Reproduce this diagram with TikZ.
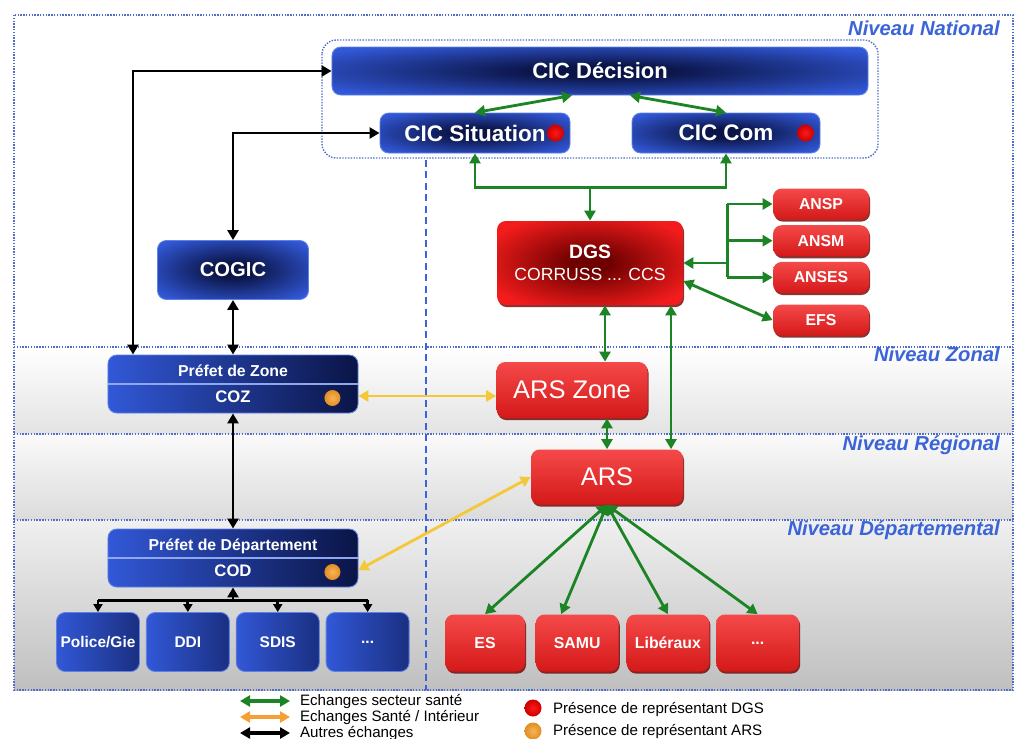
\documentclass[tikz,border=0pt]{standalone}
\usepackage{fontspec}
\setmainfont{Liberation Sans}
\usetikzlibrary{calc,positioning,shadows,arrows.meta}

\definecolor{niveaublue}{RGB}{58,100,215}
\definecolor{dotblue}{RGB}{80,110,200}
\definecolor{boxblue}{RGB}{50,88,215}
\definecolor{boxnavy}{RGB}{10,20,70}
\definecolor{boxedge}{RGB}{95,130,230}
\definecolor{boxred}{RGB}{242,28,28}
\definecolor{boxdarkred}{RGB}{110,0,0}
\definecolor{santegreen}{RGB}{28,132,36}
\definecolor{interyellow}{RGB}{244,200,56}
\definecolor{legorange}{RGB}{244,160,52}
\definecolor{dotorange}{RGB}{245,155,35}

% glow shadings for the boxes
\pgfdeclareradialshading{boxglow}{\pgfpoint{0bp}{0bp}}{color(0bp)=(boxnavy); color(6bp)=(boxnavy); color(32bp)=(boxblue); color(50bp)=(boxblue)}
\pgfdeclareradialshading{redglow}{\pgfpoint{0bp}{0bp}}{color(0bp)=(boxdarkred); color(5bp)=(boxdarkred); color(30bp)=(boxred); color(50bp)=(boxred)}

\tikzset{
  >={Triangle[length=2mm, width=2.2mm]},
  bluebox/.style={rectangle, rounded corners=5pt, draw=boxedge, line width=0.5pt,
    shading=boxglow, text=white, inner sep=2pt},
  prefetbox/.style={rectangle, rounded corners=5pt, draw=boxedge, line width=0.5pt,
    left color=boxblue, right color=boxnavy, text=white, align=center,
    minimum width=50mm, minimum height=11.6mm, inner sep=1pt},
  servicebox/.style={rectangle, rounded corners=5pt, draw=boxedge, line width=0.5pt,
    left color=boxblue, right color=boxnavy!60!boxblue, text=white,
    minimum width=16.6mm, minimum height=11.8mm, inner sep=1pt,
    font=\fontsize{8.8}{10}\selectfont\bfseries},
  redbox/.style={rectangle, rounded corners=5pt, top color=boxred!80!white,
    bottom color=boxred!88!black, text=white, inner sep=1pt,
    drop shadow={shadow xshift=0.6pt, shadow yshift=-1.2pt, fill=boxdarkred, opacity=0.8}},
  agencebox/.style={redbox, minimum width=19.2mm, minimum height=6.2mm,
    font=\fontsize{9}{10}\selectfont\bfseries},
  acteurbox/.style={redbox, minimum width=16.6mm, minimum height=11.4mm,
    font=\fontsize{9}{10}\selectfont\bfseries},
  reddot/.style={inner color=red!90!white, outer color=red!80!black},
  orangedot/.style={inner color=dotorange!75!white, outer color=dotorange!92!black},
  sante/.style={draw=santegreen, line width=1.6pt},
  inter/.style={draw=interyellow, line width=1.6pt},
  autre/.style={draw=black, line width=1.6pt},
  niveau/.style={text=niveaublue, font=\fontsize{11.5}{13}\selectfont\bfseries\itshape, anchor=east},
  framedot/.style={draw=dotblue, dash pattern=on 0.8pt off 0.8pt, line width=0.8pt},
  legende/.style={anchor=west, font=\fontsize{8.6}{10}\selectfont, inner sep=1pt},
}

\begin{document}
\begin{tikzpicture}[x=0.2mm,y=-0.2mm]
\useasboundingbox (0,0) rectangle (1023,738);
\fill[white] (0,0) rectangle (1023,738);
%
% level bands
\shade[top color=white, bottom color=gray!22] (14,347) rectangle (1013,434);
\shade[top color=white!96!gray, bottom color=gray!28] (14,434) rectangle (1013,520);
\shade[top color=gray!12, bottom color=gray!50] (14,520) rectangle (1013,690);
\draw[framedot] (14,15) rectangle (1013,690);
\foreach \y in {347,434,520}
   \draw[framedot] (14,\y) -- (1013,\y);
\draw[niveaublue, line width=1pt, dash pattern=on 4pt off 2.5pt] (426,160) -- (426,690);
\node[niveau] (nnat) at (1006,28) {Niveau National};
\node[niveau] (nzon) at (1006,354) {Niveau Zonal};
\node[niveau] (nreg) at (1006,445) {Niveau Régional};
\node[niveau] (ndep) at (1006,530) {Niveau Départemental};
%
% national level
\draw[framedot, rounded corners=8pt] (322,40) rectangle (878,158);
\node[bluebox, minimum width=107.2mm, minimum height=9.6mm,
      font=\fontsize{12.5}{14}\selectfont\bfseries] (cicdec) at (600,71) {CIC Décision};
\node[bluebox, minimum width=38mm, minimum height=8mm,
      font=\fontsize{12.8}{14}\selectfont\bfseries] (cicsit) at (475,133) {CIC Situation};
\node[bluebox, minimum width=37.6mm, minimum height=8mm,
      font=\fontsize{12.8}{14}\selectfont\bfseries] (ciccom) at (726,133) {CIC Com};
\shade[reddot] ($(cicsit.east)+(-15,0)$) circle (1.7mm);
\shade[reddot] ($(ciccom.east)+(-15,0)$) circle (1.7mm);
\node[bluebox, minimum width=30.2mm, minimum height=11.8mm,
      font=\fontsize{11.5}{13}\selectfont\bfseries] (cogic) at (233,270) {COGIC};
%
% health side
\node[redbox, shading=redglow, align=center,
      minimum width=37.2mm, minimum height=16.8mm] (dgs) at (590,263)
      {\fontsize{11}{13}\selectfont\bfseries DGS\\[0.6pt]\fontsize{10}{12}\selectfont CORRUSS ... CCS};
\node[agencebox] (ansp) at (821,204) {ANSP};
\node[agencebox, below=1mm of ansp] (ansm) {ANSM};
\node[agencebox, below=1mm of ansm] (anses) {ANSES};
\node[agencebox, below=2.2mm of anses] (efs) {EFS};
\node[redbox, minimum width=30.2mm, minimum height=11.2mm,
      font=\fontsize{14.5}{16}\selectfont] (arszone) at (572,390) {ARS Zone};
\node[redbox, minimum width=30.4mm, minimum height=11mm,
      font=\fontsize{14.5}{16}\selectfont] (ars) at (607,477) {ARS};
\node[acteurbox, minimum width=16mm] (es) at (485,643) {ES};
\node[acteurbox, right=2mm of es] (samu) {SAMU};
\node[acteurbox, right=1.4mm of samu] (lib) {Libéraux};
\node[acteurbox, right=1.2mm of lib] (etcr) {...};
%
% prefecture side
\node[prefetbox] (pzone) at (233,384)
      {\fontsize{9}{11}\selectfont\bfseries Préfet de Zone\\[2.6pt]\fontsize{9.5}{11}\selectfont\bfseries COZ};
\draw[boxedge!70!white, line width=0.8pt] (pzone.west) -- (pzone.east);
\node[prefetbox] (pdep) at (233,558)
      {\fontsize{9}{11}\selectfont\bfseries Préfet de Département\\[2.6pt]\fontsize{9.5}{11}\selectfont\bfseries COD};
\draw[boxedge!70!white, line width=0.8pt] (pdep.west) -- (pdep.east);
\shade[orangedot] ($(pzone.east)+(-26,14)$) circle (1.6mm);
\shade[orangedot] ($(pdep.east)+(-26,14)$) circle (1.6mm);
\node[servicebox] (police) at (98,642) {Police/Gie};
\node[servicebox, right=1.2mm of police] (ddi) {DDI};
\node[servicebox, right=1.2mm of ddi] (sdis) {SDIS};
\node[servicebox, right=1.2mm of sdis] (etcb) {...};
%
% other exchanges
\coordinate (pz1) at ($(pzone.north)+(-100,0)$);
\draw[autre, <->] (pz1) |- (cicdec.west);
\draw[autre, <->] (cogic.north) |- (cicsit.west);
\draw[autre, <->] (cogic.south) -- (pzone.north);
\draw[autre, <->] (pzone.south) -- (pdep.north);
\coordinate (bus) at ($(pdep.south)+(0,13)$);
\draw[autre, ->] (bus) -- (pdep.south);
\draw[autre] (bus -| police.north) -- (bus -| etcb.north);
\foreach \b in {police,ddi,sdis,etcb}
   \draw[autre, -{Triangle[length=1.6mm, width=1.8mm]}] (bus -| \b.north) -- (\b.north);
%
% health exchanges
\draw[sante, <->] (cicsit.north) -- ($(cicdec.south)+(-28,0)$);
\draw[sante, <->] ($(cicdec.south)+(30,0)$) -- (ciccom.north);
\coordinate (dgsbus) at ($(dgs.north)+(0,-33)$);
\draw[sante, <->] (cicsit.south) |- (dgsbus) -| (ciccom.south);
\draw[sante, ->] (dgsbus) -- (dgs.north);
\coordinate (trunk) at ($(dgs.east)+(44,0)$);
\draw[sante, <-] (dgs.east) -- (trunk);
\draw[sante] (trunk |- ansp.west) -- (trunk |- anses.west);
\foreach \a in {ansp,ansm,anses}
   \draw[sante, ->] (trunk |- \a.west) -- (\a.west);
\draw[sante, <->] ($(dgs.east)+(0,18)$) -- (efs.west);
\coordinate (dz) at ($(arszone.north)+(33,0)$);
\draw[sante, <->] (dz |- dgs.south) -- (dz);
\coordinate (da) at ($(ars.north)+(64,0)$);
\draw[sante, <->] (da |- dgs.south) -- (da);
\draw[sante, <->] (arszone.south -| ars.north) -- (ars.north);
\draw[sante, <->] (ars.south) -- (es.north);
\draw[sante, <->] (ars.south) -- ($(samu.north)+(-16,0)$);
\draw[sante, <->] (ars.south) -- (lib.north);
\draw[sante, <->] (ars.south) -- (etcr.north);
%
% health / interior exchanges
\coordinate (cozr) at ($(pzone.east)+(0,12)$);
\draw[inter, <->] (cozr) -- (cozr -| arszone.west);
\draw[inter, <->] ($(pdep.east)+(0,12)$) -- (ars.west);
%
% legend
\draw[santegreen, line width=2.2pt, <->] (240,701) -- (290,701);
\node[legende] (lg1) at (298,701) {Echanges secteur santé};
\draw[legorange, line width=2.2pt, <->] (240,717) -- (290,717);
\node[legende] (lg2) at (298,717) {Echanges Santé / Intérieur};
\draw[black, line width=2.2pt, <->] (240,733) -- (290,733);
\node[legende] (lg3) at (298,733) {Autres échanges};
\shade[reddot] (533,708) circle (1.7mm);
\node[legende] (lg4) at (551,709) {Présence de représentant DGS};
\shade[orangedot] (533,731) circle (1.7mm);
\node[legende] (lg5) at (551,731) {Présence de représentant ARS};
\end{tikzpicture}
\end{document}
